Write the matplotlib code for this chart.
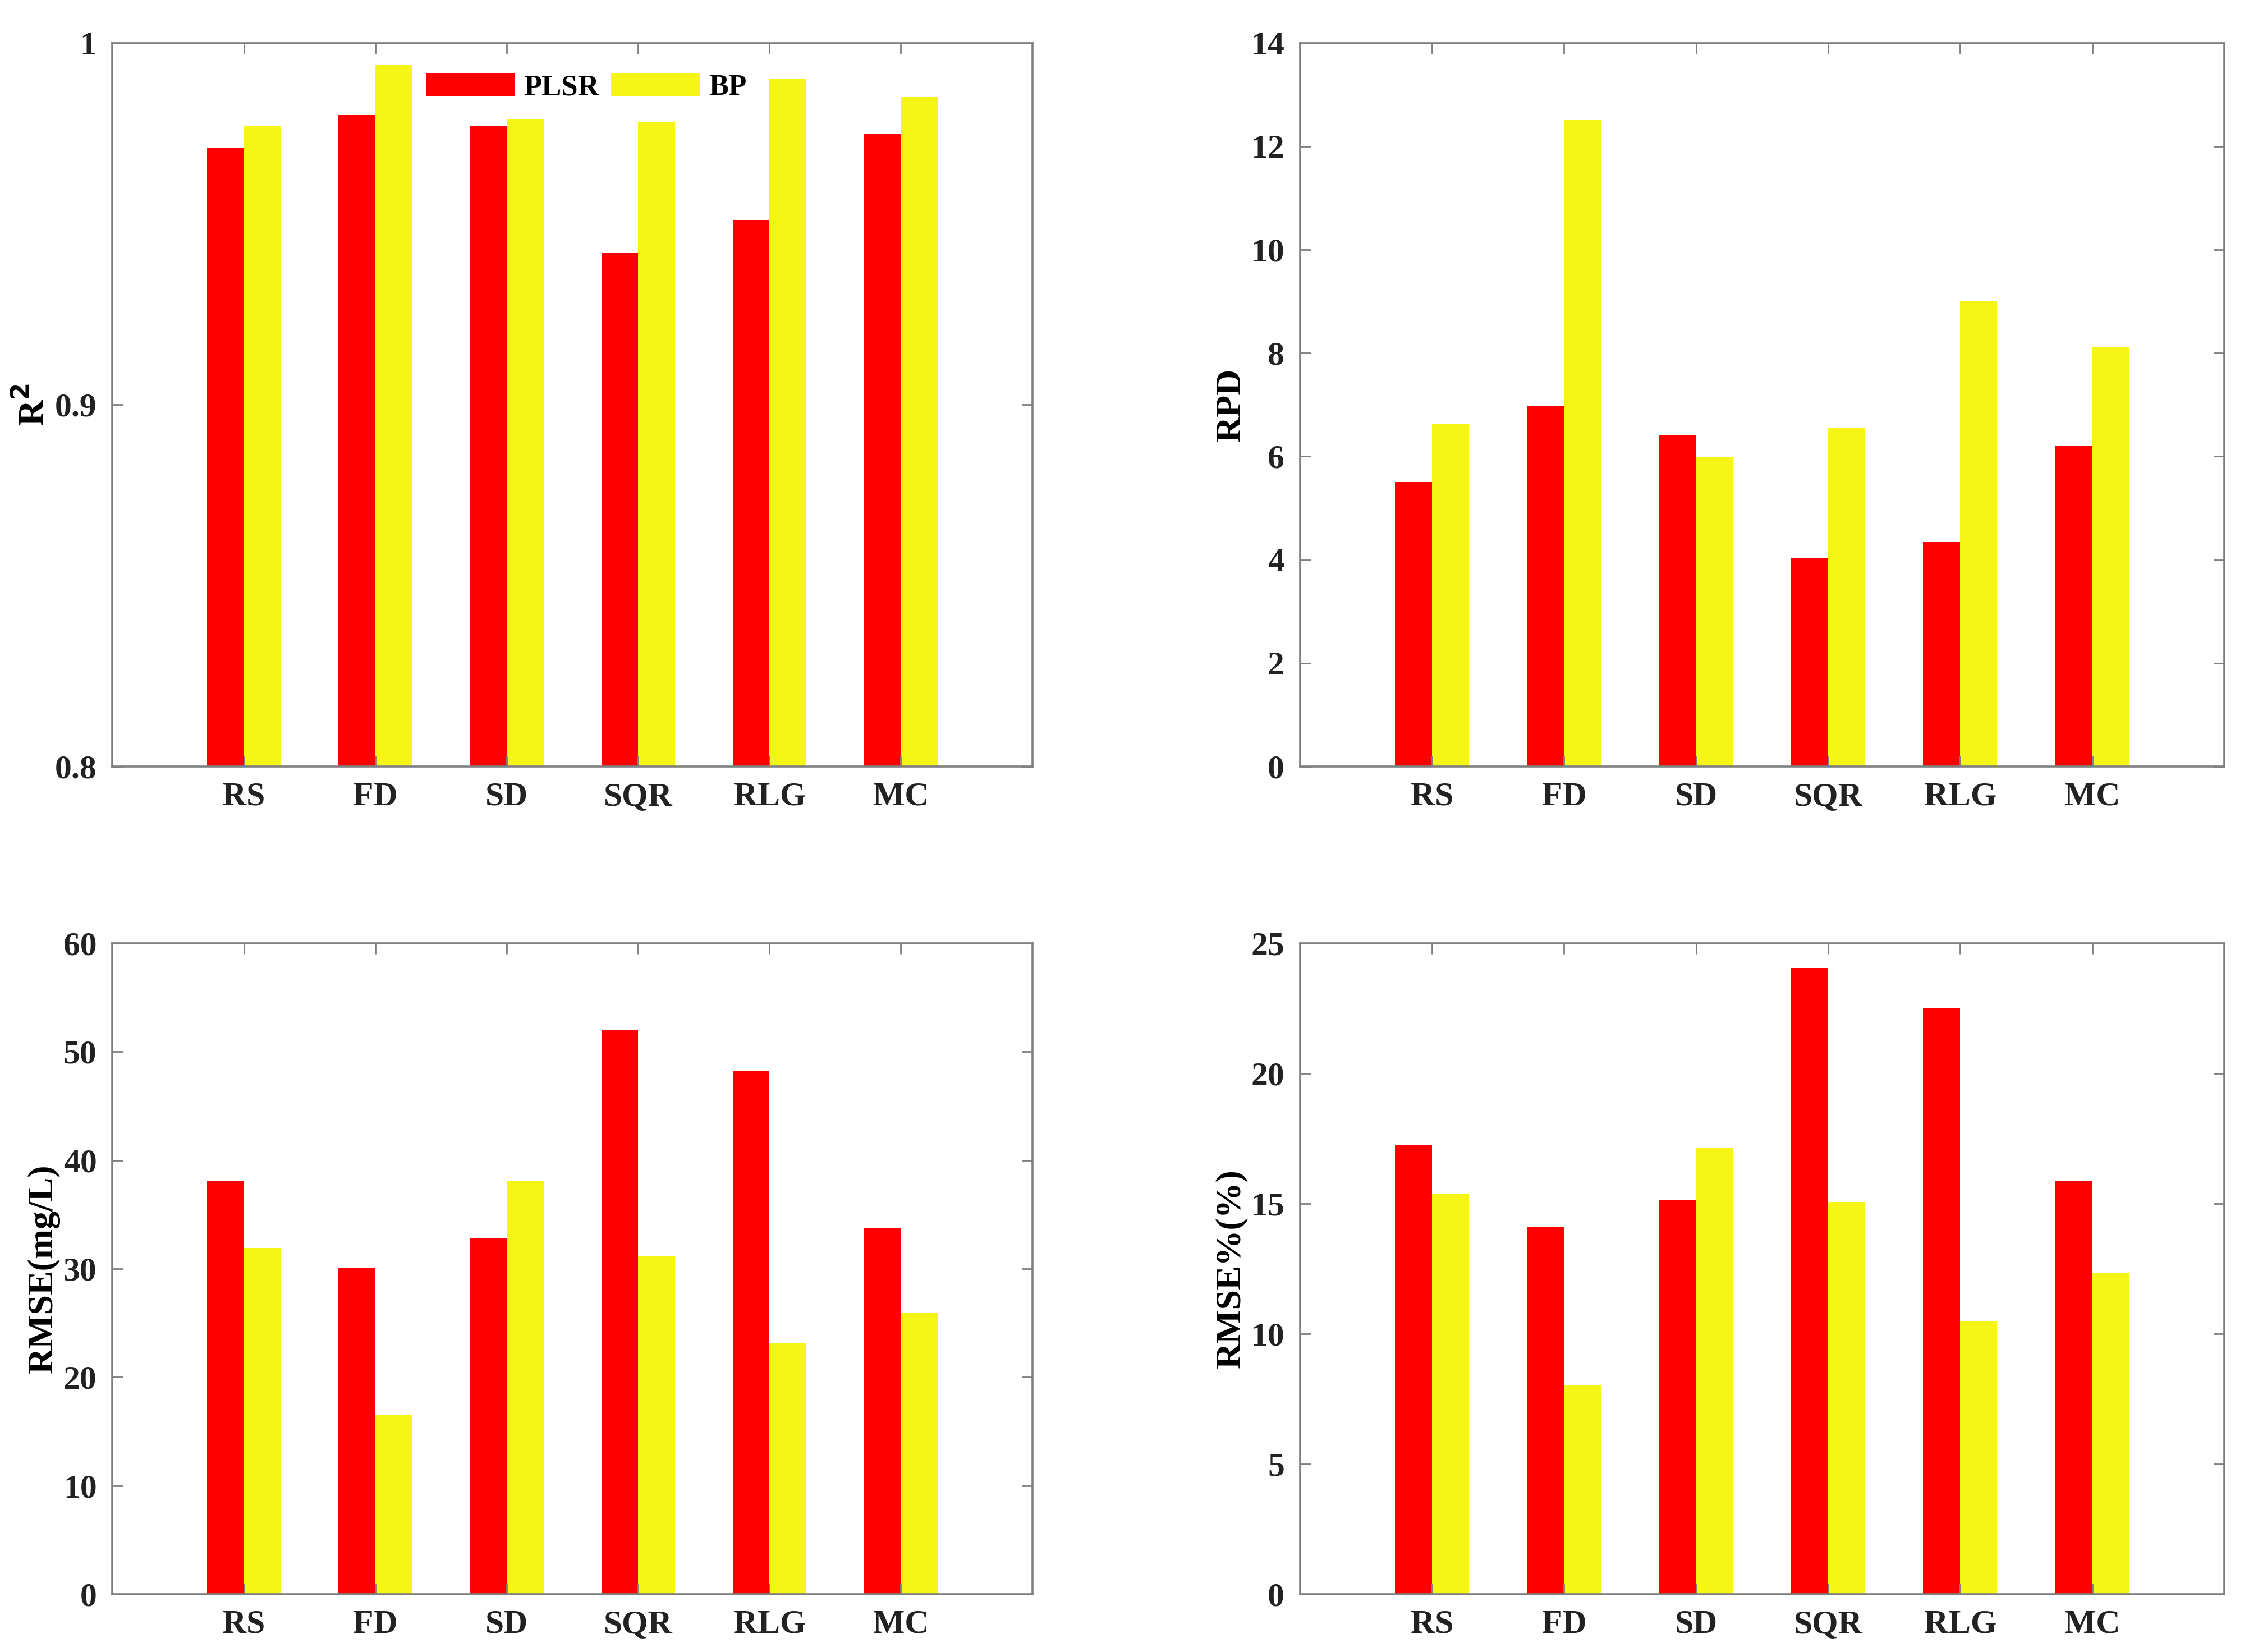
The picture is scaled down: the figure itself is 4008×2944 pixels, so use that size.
import numpy as np
import matplotlib
matplotlib.use('Agg')
import matplotlib.pyplot as plt

plt.rcParams['font.family'] = ['Liberation Serif', 'DejaVu Serif']
plt.rcParams['font.weight'] = 'bold'

methods = ['RS', 'FD', 'SD', 'SQR', 'RLG', 'MC']
series_names = ['PLSR', 'BP']

r2_plsr = [0.971, 0.980, 0.977, 0.942, 0.951, 0.975]
r2_bp = [0.977, 0.994, 0.979, 0.978, 0.990, 0.985]

rpd_plsr = [5.51, 6.98, 6.41, 4.03, 4.34, 6.20]
rpd_bp = [6.63, 12.51, 5.99, 6.56, 9.01, 8.11]

rmse_plsr = [38.1, 30.1, 32.8, 52.0, 48.2, 33.8]
rmse_bp = [31.9, 16.5, 38.1, 31.2, 23.1, 25.9]

rmsep_plsr = [17.25, 14.11, 15.14, 24.05, 22.51, 15.87]
rmsep_bp = [15.36, 8.02, 17.15, 15.06, 10.49, 12.35]

RED = '#ff0000'
YELLOW = '#f5f518'
EDGE = '#7f7f7f'

fig = plt.figure(figsize=(20.04, 14.72), dpi=200)

panels = [
    # left, bottom, width, height
    ([0.050, 0.536, 0.409, 0.438], r2_plsr, r2_bp, 'R$^{2}$', (0.8, 1.0), [0.8, 0.9, 1.0], ['0.8', '0.9', '1']),
    ([0.578, 0.536, 0.411, 0.438], rpd_plsr, rpd_bp, 'RPD', (0, 14), np.arange(0, 15, 2), None),
    ([0.050, 0.035, 0.409, 0.394], rmse_plsr, rmse_bp, 'RMSE(mg/L)', (0, 60), np.arange(0, 61, 10), None),
    ([0.578, 0.035, 0.411, 0.394], rmsep_plsr, rmsep_bp, 'RMSE%(%)', (0, 25), np.arange(0, 26, 5), None),
]

x = np.arange(1, len(methods) + 1)
w = 0.28

for i, (rect, plsr, bp, ylabel, ylim, yticks, yticklabels) in enumerate(panels):
    ax = fig.add_axes(rect)
    b0 = ylim[0]
    ax.bar(x - w / 2, np.array(plsr) - b0, w, bottom=b0, color=RED, label=series_names[0])
    ax.bar(x + w / 2, np.array(bp) - b0, w, bottom=b0, color=YELLOW, label=series_names[1])
    ax.set_xlim(0, 7)
    ax.set_ylim(*ylim)
    ax.set_xticks(x)
    ax.set_xticklabels(methods)
    ax.set_yticks(yticks)
    if yticklabels is not None:
        ax.set_yticklabels(yticklabels)
    ax.set_ylabel(ylabel, fontsize=23, fontweight='bold', labelpad=2)
    ax.tick_params(direction='in', length=7, width=1.0, color=EDGE,
                   top=True, right=True, labelsize=21.5, pad=10)
    for lab in ax.get_xticklabels() + ax.get_yticklabels():
        lab.set_fontweight('bold')
        lab.set_color('#222222')
    for sp in ax.spines.values():
        sp.set_color(EDGE)
        sp.set_linewidth(1.3)
    if i == 0:
        ax.legend(loc='upper center', bbox_to_anchor=(0.515, 0.995), ncol=2,
                  frameon=False, handlelength=3.0, handleheight=0.8,
                  columnspacing=0.4, handletextpad=0.3,
                  prop={'weight': 'bold', 'size': 19})

fig.savefig('out.png', dpi=200, facecolor='white')
